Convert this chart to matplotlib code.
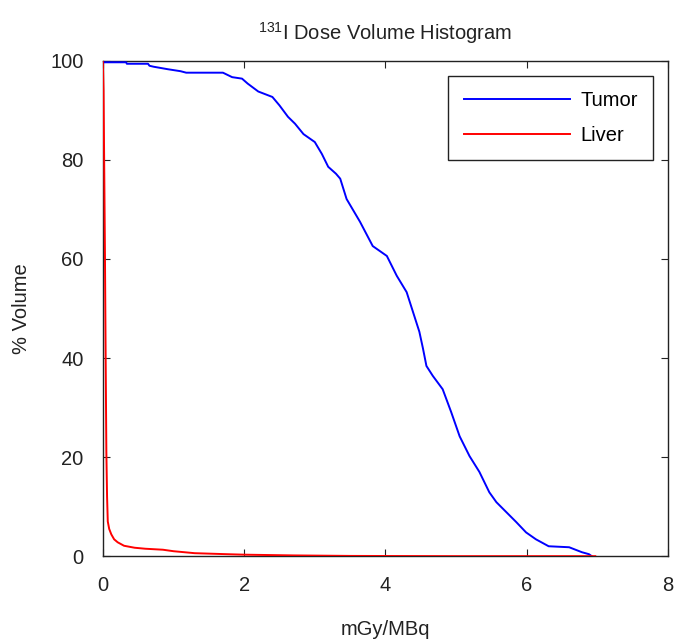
import matplotlib
matplotlib.use("Agg")
import matplotlib.pyplot as plt

# ---------------------------------------------------------------- data
tumor_dose = [0, 0.33, 0.34, 0.64, 0.66, 0.72, 0.92, 1.10, 1.18, 1.70, 1.83, 1.97,
              2.05, 2.20, 2.40, 2.50, 2.62, 2.72, 2.84, 3.00, 3.10, 3.19, 3.30, 3.36,
              3.45, 3.64, 3.82, 4.02, 4.16, 4.30, 4.39, 4.48, 4.53, 4.58, 4.67, 4.81,
              4.93, 5.05, 5.19, 5.33, 5.47, 5.57, 5.71, 5.85, 5.99, 6.13, 6.31, 6.60,
              6.78, 6.88, 6.92]
tumor_vol = [99.7, 99.7, 99.4, 99.4, 99.0, 98.8, 98.3, 97.9, 97.6, 97.6, 96.7, 96.4,
             95.4, 93.8, 92.7, 91.0, 88.7, 87.3, 85.2, 83.6, 81.2, 78.6, 77.2, 76.2,
             72.1, 67.5, 62.6, 60.6, 56.6, 53.3, 49.3, 45.3, 42.0, 38.4, 36.4, 33.7,
             29.1, 24.2, 20.2, 17.0, 12.9, 10.9, 8.9, 6.9, 4.8, 3.4, 2.0, 1.8,
             0.8, 0.4, 0]

liver_dose = [0, 0.005, 0.01, 0.02, 0.03, 0.04, 0.05, 0.06, 0.07, 0.09, 0.12, 0.16,
              0.21, 0.30, 0.45, 0.60, 0.85, 1.00, 1.30, 1.75, 2.00, 2.70, 3.50, 5.00,
              6.97]
liver_vol = [100, 97, 94, 78, 61, 40, 21, 12, 7, 5.5, 4.4, 3.4,
             2.8, 2.1, 1.7, 1.5, 1.3, 1.0, 0.6, 0.4, 0.3, 0.15, 0.05, 0, 0]

# ---------------------------------------------------------------- style
plt.rcParams["font.family"] = ["Liberation Sans", "DejaVu Sans"]
plt.rcParams["mathtext.fontset"] = "custom"
plt.rcParams["mathtext.rm"] = "Liberation Sans"
FS = 14.5

fig = plt.figure(figsize=(6.81, 6.40), dpi=100)
ax = fig.add_axes([0.151, 0.131, 0.830, 0.774])

ax.plot(tumor_dose, tumor_vol, color="#0000ff", lw=1.4, label="Tumor", zorder=3)
ax.plot(liver_dose, liver_vol, color="#ff0000", lw=1.4, label="Liver", zorder=3)

ax.set_xlim(0, 8)
ax.set_ylim(0, 100)
ax.set_xticks([0, 2, 4, 6, 8])
ax.set_yticks([0, 20, 40, 60, 80, 100])
ax.tick_params(direction="in", top=True, right=True, length=5, width=0.8,
               labelsize=FS, colors="#222222", labelcolor="#222222")
ax.tick_params(axis="x", pad=14)
ax.tick_params(axis="y", pad=14)
for s in ax.spines.values():
    s.set_color("#222222")
    s.set_linewidth(1.0)

ax.set_xlabel("mGy/MBq", fontsize=FS, labelpad=18, color="#222222")
ax.set_ylabel("% Volume", fontsize=FS, labelpad=14, color="#222222")
ax.set_title(r"$^{131}$I Dose Volume Histogram", fontsize=FS, pad=15, color="#222222")

leg = ax.legend(loc="upper right", fontsize=FS, handlelength=5.3, handletextpad=0.5,
                borderpad=0.75, labelspacing=0.8, fancybox=False, framealpha=1,
                borderaxespad=0.75)
leg.get_frame().set_edgecolor("#222222")
leg.get_frame().set_linewidth(1.0)

fig.savefig("out.png", dpi=100)
